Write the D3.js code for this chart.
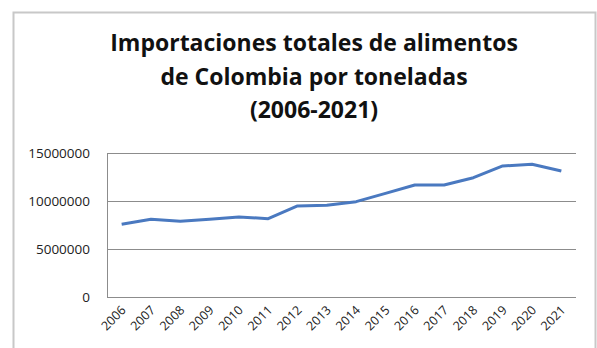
<!DOCTYPE html>
<html>
<head>
<meta charset="utf-8">
<script src="https://cdn.jsdelivr.net/npm/d3@7"></script>
<style>
  body { margin: 0; background: #fff; }
  svg { display: block; }
  .title { font-family: "Open Sans", sans-serif; font-weight: bold; font-size: 23px; fill: #111; }
  .tick text { font-family: "Open Sans", sans-serif; font-size: 13.5px; fill: #222; }
  .xlab .tick text { font-size: 12.5px; }
</style>
</head>
<body>
<svg id="chart"></svg>
<script>
const years = ['2006', '2007', '2008', '2009', '2010', '2011', '2012', '2013',
  '2014', '2015', '2016', '2017', '2018', '2019', '2020', '2021'];
const toneladas = [7570000, 8090000, 7880000, 8100000, 8330000, 8160000, 9480000, 9550000,
  9930000, 10800000, 11670000, 11670000, 12430000, 13650000, 13820000, 13130000];
const yTicks = [0, 5000000, 10000000, 15000000];
const titleLines = ['Importaciones totales de alimentos', 'de Colombia por toneladas', '(2006-2021)'];

const width = 597;
const height = 348;
const plotLeft = 107;
const plotRight = 576;
const plotTop = 153;
const plotBottom = 297;

const svg = d3.select('#chart')
  .attr('width', width)
  .attr('height', height)

// outer chart frame
svg.append('rect')
  .attr('x', 13.5)
  .attr('y', 12.5)
  .attr('width', 582)
  .attr('height', 360)
  .attr('fill', 'none')
  .attr('stroke', '#c8c8c8')
  .attr('stroke-width', 2)

svg.append('g')
  .selectAll('text')
  .data(titleLines)
  .enter()
  .append('text')
  .attr('class', 'title')
  .attr('x', 314)
  .attr('y', (d, i) => 51 + i * 33.5)
  .attr('text-anchor', 'middle')
  .text((d) => d)

const xscale = d3.scaleBand()
  .domain(years)
  .range([plotLeft, plotRight])

const yscale = d3.scaleLinear()
  .domain([0, 15000000])
  .range([plotBottom, plotTop])

// gridlines
const leftAxis = d3.axisLeft(yscale)
  .tickValues(yTicks)
  .tickSize(-(plotRight - plotLeft))
  .tickPadding(17)
  .tickFormat(d3.format('d'))

svg.append('g')
  .attr('transform', `translate(${plotLeft}, 0)`)
  .call(leftAxis)
  .call((g) => g.select('.domain').attr('stroke', '#8c8c8c'))
  .call((g) => g.selectAll('.tick line').attr('stroke', '#8c8c8c'))

const bottomAxis = d3.axisBottom(xscale)
  .tickSize(0)
  .tickPadding(0)

svg.append('g')
  .attr('class', 'xlab')
  .attr('transform', `translate(0, ${plotBottom})`)
  .call(bottomAxis)
  .call((g) => g.select('.domain').remove())
  .selectAll('text')
  .attr('text-anchor', 'end')
  .attr('dy', null)
  .attr('transform', 'translate(5, 14) rotate(-45)')

const line = d3.line()
  .x((d, i) => xscale(years[i]) + xscale.bandwidth() / 2)
  .y((d) => yscale(d))

svg.append('path')
  .datum(toneladas)
  .attr('d', line)
  .attr('fill', 'none')
  .attr('stroke', '#4a79c0')
  .attr('stroke-width', 3)
  .attr('stroke-linejoin', 'round')
</script>
</body>
</html>
